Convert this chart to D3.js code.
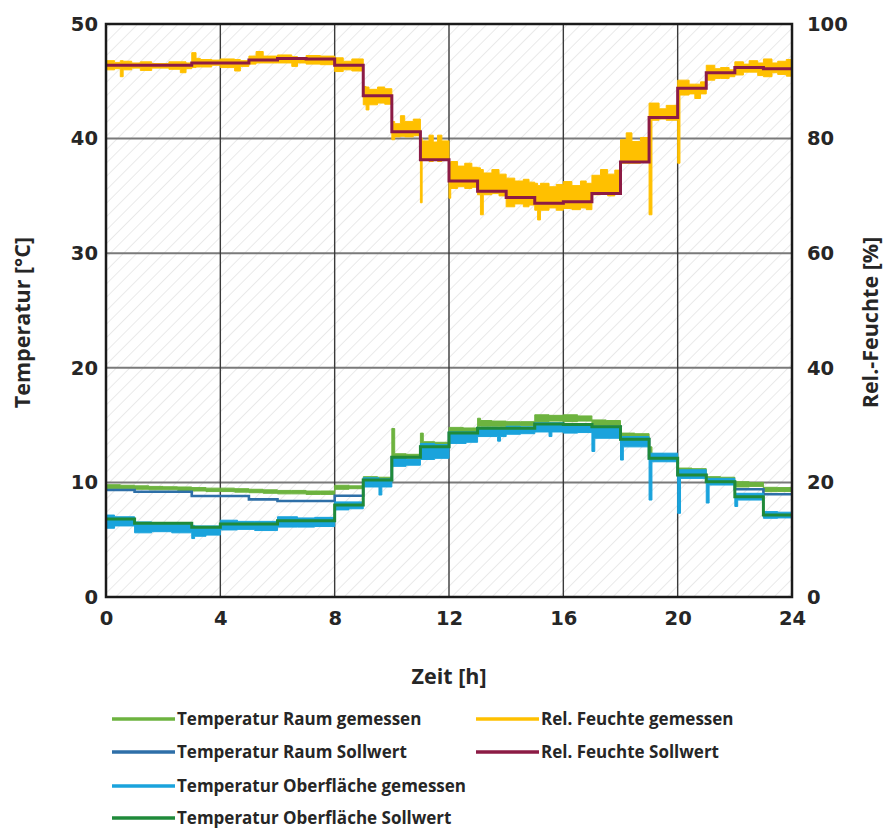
<!DOCTYPE html>
<html>
<head>
<meta charset="utf-8">
<script src="https://cdn.jsdelivr.net/npm/d3@7"></script>
<style>
  html, body { margin: 0; padding: 0; background: #ffffff; }
  svg { display: block; }
</style>
</head>
<body>
<svg id="chart" width="883" height="829"></svg>
<script>
// ---- axis ticks ----
const timeTicks = [0, 4, 8, 12, 16, 20, 24];
const tempTicks = [0, 10, 20, 30, 40, 50];
const rhTicks = [0, 20, 40, 60, 80, 100];

// ---- setpoints (step functions, value holds until next time) ----
const surfSetT = [0, 1, 3, 4, 6, 8, 9, 10, 11, 12, 13, 15, 16, 17, 18, 19, 20, 21, 22, 23, 24];
const surfSet  = [6.8, 6.43, 6.08, 6.37, 6.66, 8.03, 10.2, 12.2, 13.1, 14.3, 14.72, 15.1, 15.05, 14.86, 13.76, 12.1, 10.65, 10.06, 8.75, 7.16, 7.16];

const roomSetT = [0, 1, 3, 5, 6, 8, 9, 10, 11, 12, 13, 15, 16, 17, 18, 19, 20, 21, 22, 23, 24];
const roomSet  = [9.34, 9.19, 8.81, 8.52, 8.38, 8.84, 10.2, 12.2, 13.1, 14.3, 14.72, 15.1, 15.05, 14.86, 13.76, 12.1, 10.65, 10.06, 9.4, 8.96, 8.96];

const rhSetT = [0, 3, 5, 6, 7, 8, 9, 10, 11, 12, 13, 14, 15, 16, 17, 18, 19, 20, 21, 22, 23, 24];
const rhSet  = [92.8, 93.2, 93.7, 94.0, 93.9, 92.8, 87.5, 81.2, 76.3, 72.6, 70.8, 69.7, 68.7, 69.0, 70.4, 75.9, 83.7, 88.8, 91.5, 92.4, 92.2, 92.2];

// ---- measured values: min / max per sampling interval ----
const roomMeasT  = [0, 0.5, 1, 1.5, 2, 2.5, 3, 3.5, 4, 4.5, 5, 5.5, 6, 6.5, 7, 7.5, 8, 8.5, 9, 9.5, 10, 10.1, 10.5, 11, 11.1, 11.5, 12, 12.5, 13, 13.1, 13.5, 14, 14.5, 15, 15.5, 16, 16.5, 17, 17.5, 18, 18.5, 19, 19.1, 19.5, 20, 20.5, 21, 21.5, 22, 22.5, 23, 23.5, 24];
const roomMeasLo = [9.45, 9.45, 9.4, 9.35, 9.35, 9.3, 9.25, 9.2, 9.2, 9.15, 9.1, 9.05, 9.0, 9.0, 8.95, 8.95, 9.4, 9.45, 10.15, 10.2, 12.1, 12.1, 12.15, 13.0, 13.1, 13.1, 14.3, 14.35, 14.9, 14.9, 14.9, 14.95, 14.95, 15.3, 15.35, 15.3, 15.35, 15.0, 15.0, 13.9, 13.95, 12.1, 12.1, 12.15, 10.65, 10.7, 10.06, 10.1, 9.6, 9.65, 9.19, 9.2, 9.2];
const roomMeasHi = [9.8, 9.75, 9.7, 9.65, 9.62, 9.6, 9.55, 9.5, 9.5, 9.45, 9.4, 9.35, 9.3, 9.3, 9.25, 9.25, 9.75, 9.7, 10.5, 10.45, 14.7, 12.5, 12.45, 14.3, 13.55, 13.5, 14.8, 14.75, 15.6, 15.4, 15.35, 15.3, 15.3, 15.9, 15.85, 15.9, 15.8, 15.45, 15.4, 14.3, 14.25, 13.1, 12.5, 12.45, 11.25, 11.2, 10.5, 10.45, 10.06, 10.0, 9.57, 9.55, 9.55];

const surfMeasT  = [0, 0.3, 1, 1.6, 2.3, 3, 3.1, 3.5, 4, 4.6, 5.2, 6, 6.7, 7.3, 8, 8.5, 9, 9.55, 9.65, 10, 10.5, 11, 11.5, 12, 12.6, 13, 13.7, 13.8, 14, 14.5, 15, 15.5, 15.6, 16, 16.5, 17, 17.1, 18, 18.1, 19, 19.1, 20, 20.1, 21, 21.1, 22, 22.1, 23, 23.5, 24];
const surfMeasLo = [6.0, 6.2, 5.6, 5.7, 5.6, 5.1, 5.3, 5.4, 5.85, 5.9, 5.8, 6.1, 6.1, 6.15, 7.6, 7.7, 9.6, 8.9, 9.6, 11.4, 11.5, 12.0, 12.1, 13.4, 13.5, 14.0, 13.6, 14.0, 14.2, 14.25, 14.4, 14.0, 14.4, 14.3, 14.35, 12.7, 13.85, 11.95, 13.1, 8.46, 11.8, 7.3, 10.35, 8.2, 9.77, 7.9, 8.46, 6.87, 6.9, 6.9];
const surfMeasHi = [7.15, 7.0, 6.55, 6.5, 6.45, 6.25, 6.2, 6.2, 6.7, 6.6, 6.6, 7.0, 6.9, 6.95, 8.3, 8.3, 10.4, 10.3, 10.3, 12.1, 12.0, 13.4, 13.3, 14.4, 14.4, 14.8, 14.7, 14.8, 14.9, 14.85, 15.2, 15.2, 15.2, 15.0, 15.0, 14.85, 14.85, 14.0, 14.0, 12.55, 12.55, 11.1, 11.1, 10.35, 10.35, 9.05, 9.05, 7.45, 7.4, 7.4];

const rhMeasT  = [0, 0.3, 0.5, 0.6, 0.9, 1.2, 1.6, 2.2, 2.6, 2.8, 3, 3.15, 3.3, 3.7, 4, 4.5, 4.7, 5, 5.25, 5.5, 6, 6.5, 6.7, 7, 7.5, 8, 8.3, 8.6,
                  9, 9.1, 9.2, 9.5, 9.75, 10, 10.1, 10.3, 10.45, 10.75, 11, 11.06, 11.3, 11.45, 11.6, 11.75, 12, 12.06, 12.3, 12.55, 12.8,
                  13, 13.1, 13.2, 13.5, 13.75, 14, 14.3, 14.6, 14.8, 15, 15.1, 15.2, 15.5, 15.75, 16, 16.3, 16.6, 16.8, 17, 17.3, 17.55, 17.8,
                  18, 18.2, 18.4, 18.7, 19, 19.1, 19.35, 19.6, 20, 20.08, 20.4, 20.6, 20.8, 21, 21.3, 21.5, 21.8, 22, 22.3, 22.5, 22.8, 23, 23.3, 23.5, 23.8, 24];
const rhMeasLo = [92.0, 92.2, 90.8, 92.0, 92.3, 91.9, 92.3, 92.1, 91.5, 92.2, 92.4, 92.5, 92.5, 92.8, 92.4, 91.8, 92.6, 93.0, 93.2, 93.2, 93.2, 92.6, 93.2, 93.0, 92.9, 91.7, 92.0, 91.8,
                  85.9, 85.0, 85.9, 86.2, 86.0, 79.8, 80.3, 80.4, 80.3, 80.5, 68.8, 76.3, 76.0, 76.2, 76.0, 76.4, 69.6, 71.3, 71.6, 71.3, 71.5,
                  70.2, 66.7, 70.2, 70.4, 70.0, 68.1, 68.6, 68.1, 68.4, 67.5, 65.8, 67.5, 67.9, 67.5, 67.8, 67.6, 67.9, 67.6, 70.2, 70.4, 70.0, 70.3,
                  75.7, 75.7, 75.7, 75.9, 66.7, 83.2, 83.4, 83.2, 75.7, 87.6, 87.8, 87.0, 87.8, 90.2, 90.5, 90.5, 90.8, 91.1, 91.6, 91.6, 91.0, 90.8, 91.5, 91.2, 90.9, 90.9];
const rhMeasHi = [93.6, 93.3, 93.6, 93.5, 93.2, 93.4, 93.1, 93.4, 93.4, 93.2, 95.0, 94.0, 93.8, 93.7, 93.9, 93.8, 93.6, 94.4, 95.2, 94.4, 94.6, 94.3, 94.0, 94.5, 94.4, 94.1, 93.5, 93.9,
                  89.1, 89.0, 88.6, 89.0, 88.7, 83.0, 82.6, 84.0, 83.0, 83.4, 80.1, 79.6, 80.6, 79.4, 80.6, 79.6, 75.8, 76.0, 75.2, 75.7, 75.0,
                  74.9, 74.6, 74.0, 74.6, 73.8, 73.1, 72.6, 72.9, 72.4, 72.2, 71.8, 72.2, 71.6, 72.0, 72.5, 71.8, 72.6, 72.2, 73.6, 74.6, 73.8, 74.5,
                  79.8, 81.0, 79.5, 80.2, 86.2, 86.2, 85.2, 85.8, 90.2, 90.2, 89.5, 89.5, 89.9, 92.8, 92.2, 92.4, 92.0, 93.4, 93.0, 93.6, 93.2, 93.9, 93.2, 93.5, 93.8, 93.8];

// ---- legend entries ----
const legendLabels = ["Temperatur Raum gemessen", "Temperatur Raum Sollwert", "Temperatur Oberfläche gemessen", "Temperatur Oberfläche Sollwert", "Rel. Feuchte gemessen", "Rel. Feuchte Sollwert"];
const seriesColors = ["#6db33f", "#2e6fa8", "#1aa3dc", "#1f8a3a", "#ffc000", "#8c1b45"];

// ---- layout ----
const svg = d3.select("#chart");
const plot = { left: 106, right: 792, top: 24, bottom: 597 };

const x = d3.scaleLinear().domain([0, 24]).range([plot.left, plot.right]);
const yT = d3.scaleLinear().domain([0, 50]).range([plot.bottom, plot.top]);
const yH = d3.scaleLinear().domain([0, 100]).range([plot.bottom, plot.top]);

// hatched plot background
const defs = svg.append("defs");
const pat = defs.append("pattern")
  .attr("id", "hatch").attr("patternUnits", "userSpaceOnUse")
  .attr("width", 9.5).attr("height", 9.5)
  .attr("patternTransform", "rotate(45)");
pat.append("line").attr("x1", 0).attr("y1", 0).attr("x2", 0).attr("y2", 9.5)
  .attr("stroke", "#dcdcdc").attr("stroke-width", 1.2);

defs.append("clipPath").attr("id", "plotClip").append("rect")
  .attr("x", plot.left).attr("y", plot.top)
  .attr("width", plot.right - plot.left).attr("height", plot.bottom - plot.top);

svg.append("rect")
  .attr("x", plot.left).attr("y", plot.top)
  .attr("width", plot.right - plot.left).attr("height", plot.bottom - plot.top)
  .attr("fill", "url(#hatch)");

// grid lines
const grid = svg.append("g");
grid.selectAll(".hgrid").data(tempTicks.filter(d => d > 0 && d < 50)).join("line")
  .attr("x1", plot.left).attr("x2", plot.right)
  .attr("y1", d => yT(d)).attr("y2", d => yT(d))
  .attr("stroke", "#7a7a7a").attr("stroke-width", 2);
grid.selectAll(".vgrid").data(timeTicks.filter(d => d > 0 && d < 24)).join("line")
  .attr("y1", plot.top).attr("y2", plot.bottom)
  .attr("x1", d => x(d)).attr("x2", d => x(d))
  .attr("stroke", "#3a3a3a").attr("stroke-width", 1.4);

// series
const series = svg.append("g").attr("clip-path", "url(#plotClip)");

function band(T, lo, hi, yScale) {
  const rows = T.map((t, i) => ({ t, lo: lo[i], hi: hi[i] }));
  return d3.area().curve(d3.curveStepAfter)
    .x(d => x(d.t)).y0(d => yScale(d.lo)).y1(d => yScale(d.hi))(rows);
}
function stepLine(T, V, yScale) {
  const rows = T.map((t, i) => ({ t, v: V[i] }));
  return d3.line().curve(d3.curveStepAfter).x(d => x(d.t)).y(d => yScale(d.v))(rows);
}

// Temperatur Raum gemessen
series.append("path").attr("d", band(roomMeasT, roomMeasLo, roomMeasHi, yT))
  .attr("fill", seriesColors[0]).attr("stroke", seriesColors[0]).attr("stroke-width", 1);
// Temperatur Raum Sollwert
series.append("path").attr("d", stepLine(roomSetT, roomSet, yT))
  .attr("fill", "none").attr("stroke", seriesColors[1]).attr("stroke-width", 2.6);
// Temperatur Oberfläche gemessen
series.append("path").attr("d", band(surfMeasT, surfMeasLo, surfMeasHi, yT))
  .attr("fill", seriesColors[2]).attr("stroke", seriesColors[2]).attr("stroke-width", 1);
// Temperatur Oberfläche Sollwert
series.append("path").attr("d", stepLine(surfSetT, surfSet, yT))
  .attr("fill", "none").attr("stroke", seriesColors[3]).attr("stroke-width", 3);
// Rel. Feuchte gemessen
series.append("path").attr("d", band(rhMeasT, rhMeasLo, rhMeasHi, yH))
  .attr("fill", seriesColors[4]).attr("stroke", seriesColors[4]).attr("stroke-width", 1);
// Rel. Feuchte Sollwert
series.append("path").attr("d", stepLine(rhSetT, rhSet, yH))
  .attr("fill", "none").attr("stroke", seriesColors[5]).attr("stroke-width", 3);

// frame
svg.append("rect")
  .attr("x", plot.left).attr("y", plot.top)
  .attr("width", plot.right - plot.left).attr("height", plot.bottom - plot.top)
  .attr("fill", "none").attr("stroke", "#1a1a1a").attr("stroke-width", 2.5);

// axes
const tickFont = "'DejaVu Sans', Verdana, sans-serif";
function styleAxis(g) {
  g.select(".domain").remove();
  g.selectAll(".tick line").remove();
  g.selectAll(".tick text")
    .attr("font-family", tickFont).attr("font-weight", "bold")
    .attr("font-size", 19.5).attr("fill", "#262626");
}
svg.append("g").attr("transform", `translate(${plot.left},0)`)
  .call(d3.axisLeft(yT).tickValues(tempTicks).tickSize(0).tickPadding(8).tickFormat(d3.format("d")))
  .call(styleAxis);
svg.append("g").attr("transform", `translate(${plot.right},0)`)
  .call(d3.axisRight(yH).tickValues(rhTicks).tickSize(0).tickPadding(15).tickFormat(d3.format("d")))
  .call(styleAxis);
svg.append("g").attr("transform", `translate(0,${plot.bottom})`)
  .call(d3.axisBottom(x).tickValues(timeTicks).tickSize(0).tickPadding(14).tickFormat(d3.format("d")))
  .call(styleAxis);

// axis titles
const titleFont = "'Open Sans', 'Liberation Sans', sans-serif";
svg.append("text").attr("x", (plot.left + plot.right) / 2).attr("y", 684)
  .attr("text-anchor", "middle").attr("font-family", titleFont).attr("font-weight", "bold")
  .attr("font-size", 21.5).attr("fill", "#262626").text("Zeit [h]");
svg.append("text").attr("transform", `translate(30,${(plot.top + plot.bottom) / 2 + 12}) rotate(-90)`)
  .attr("text-anchor", "middle").attr("font-family", titleFont).attr("font-weight", "bold")
  .attr("font-size", 21.5).attr("fill", "#262626").text("Temperatur [°C]");
svg.append("text").attr("transform", `translate(878,${(plot.top + plot.bottom) / 2 + 12}) rotate(-90)`)
  .attr("text-anchor", "middle").attr("font-family", titleFont).attr("font-weight", "bold")
  .attr("font-size", 21.5).attr("fill", "#262626").text("Rel.-Feuchte [%]");

// legend: two columns
const legendPos = [[112, 719], [112, 752], [112, 786], [112, 818], [476, 719], [476, 752]];
const legend = svg.append("g");
legendLabels.forEach((lab, i) => {
  const [lx, ly] = legendPos[i];
  legend.append("line").attr("x1", lx).attr("x2", lx + 63).attr("y1", ly).attr("y2", ly)
    .attr("stroke", seriesColors[i]).attr("stroke-width", 3.5);
  legend.append("text").attr("x", lx + 65).attr("y", ly).attr("dy", "0.36em")
    .attr("font-family", titleFont).attr("font-weight", "bold")
    .attr("font-size", 17).attr("fill", "#262626").text(lab);
});
</script>
</body>
</html>
